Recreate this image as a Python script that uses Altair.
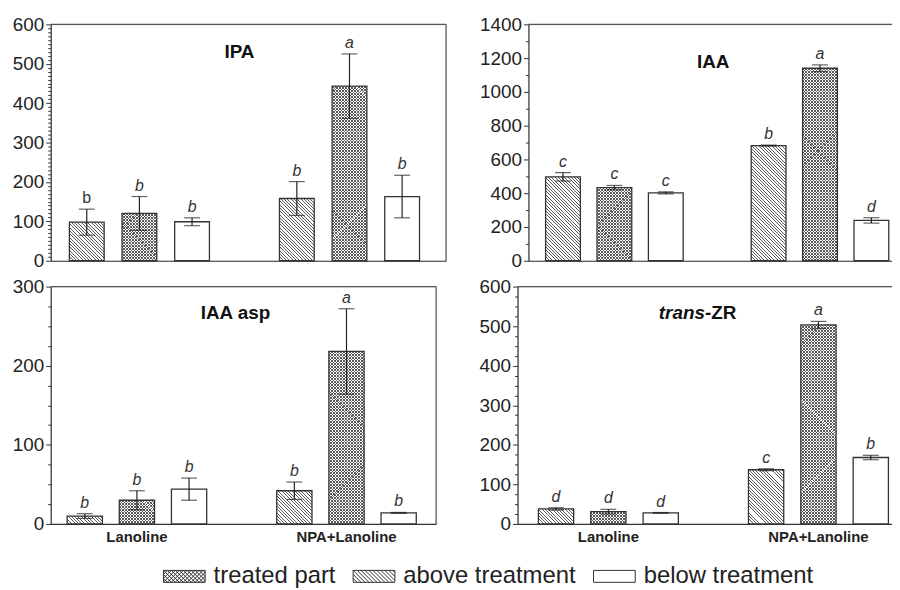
import math
import altair as alt
import pandas as pd

FONT = "Liberation Sans, Arial, Helvetica, sans-serif"

# ---------------- data ----------------
groups = ["Lanoline", "NPA+Lanoline"]
series = ["above treatment", "treated part", "below treatment"]
legend_order = ["treated part", "above treatment", "below treatment"]

# order: Lanoline(above, treated, below), NPA+Lanoline(above, treated, below)
ipa_mean = [98, 120, 99, 158, 443, 163]
ipa_err = [33, 43, 10, 43, 82, 54]
ipa_letter = ["b", "b", "b", "b", "a", "b"]

iaa_mean = [497, 433, 402, 682, 1140, 239]
iaa_err = [25, 13, 6, 3, 20, 16]
iaa_letter = ["c", "c", "c", "b", "a", "d"]

asp_mean = [10, 30, 44, 42, 218, 14]
asp_err = [3, 12, 14, 11, 54, 0.6]
asp_letter = ["b", "b", "b", "b", "a", "b"]

zr_mean = [38, 31, 28, 137, 503, 168]
zr_err = [3, 6, 1, 2.5, 9, 5.5]
zr_letter = ["d", "d", "d", "c", "a", "b"]

ipa_ticks = list(range(0, 601, 10))
iaa_ticks = list(range(0, 1401, 100))
asp_ticks = list(range(0, 301, 25))
zr_ticks = list(range(0, 601, 25))

HATCH = "#5a5a5a"
CLEAR = "rgba(255,255,255,0)"
CHUNK_PX = 30.0


def stripe_stops(span, period, lw, start, col):
    start = start % period
    stops = [{"offset": 0, "color": CLEAR}]
    v = start - period
    while v < span:
        a = max(v, 0.0)
        c = min(v + lw, span)
        if c > a:
            a = round(a / span, 5)
            c = round(c / span, 5)
            stops += [{"offset": a, "color": CLEAR}, {"offset": a, "color": col},
                      {"offset": c, "color": col}, {"offset": c, "color": CLEAR}]
        v += period
    stops.append({"offset": 1, "color": CLEAR})
    return stops


def grad_back(w, h, bottom, period, lw):  # lines top-left -> bottom-right
    k = (w + h) / (w * w + h * h)
    return {"gradient": "linear", "x1": 0, "y1": 1, "x2": k * w, "y2": 1 - k * h,
            "stops": stripe_stops(w + h, period, lw, bottom, HATCH)}


def grad_fwd(w, h, top, period, lw):  # lines bottom-left -> top-right
    k = (w + h) / (w * w + h * h)
    return {"gradient": "linear", "x1": 0, "y1": 0, "x2": k * w, "y2": k * h,
            "stops": stripe_stops(w + h, period, lw, -top, HATCH)}


def legend_path(kind):
    hh = 0.2857
    parts = ["M-1,-%.4fH1V%.4fH-1Z" % (hh, hh)]
    step = 0.19

    def segs(direction):
        out = []
        x0 = -1 - 2 * hh
        while x0 < 1:
            xa, xb = x0, x0 + 2 * hh
            ya, yb = (-hh, hh) if direction == "back" else (hh, -hh)
            slope = (yb - ya) / (xb - xa)
            if xa < -1:
                ya = ya + slope * (-1 - xa)
                xa = -1
            if xb > 1:
                yb = yb - slope * (xb - 1)
                xb = 1
            if xb - xa > 0.01:
                out.append("M%.4f,%.4fL%.4f,%.4f" % (xa, ya, xb, yb))
            x0 += step
        return out

    if kind in ("back", "cross"):
        parts += segs("back")
    if kind == "cross":
        parts += segs("fwd")
    return "".join(parts)


def panel(title, means, errs, letters, ymax, ticks, major, W, H, L, R, s, b,
          xlabels, right_border, title_xy, upright_first=False, with_legend=False,
          split_title=False):
    df = pd.DataFrame({
        "group": [g for g in groups for _ in series],
        "series": series * 2,
        "mean": means,
        "lo": [m - e for m, e in zip(means, errs)],
        "hi": [m + e for m, e in zip(means, errs)],
        "letter": letters,
        "idx": list(range(6)),
    })
    step = W - L - R
    bw = 3 * s
    pI = 1 - bw / step
    rem = L + R - bw
    pO = rem / (2 * step)
    al = min(max((L - bw / 2) / rem, 0), 1)
    pIo = (s - b) / s
    pOo = pIo / 2

    xaxis = alt.Axis(title=None, ticks=False, labels=xlabels, domainColor="#333",
                     domainWidth=1.2, labelFont=FONT, labelFontSize=15,
                     labelFontWeight="bold", labelPadding=6, labelAngle=0,
                     labelColor="#222")
    X = alt.X("group:N", scale=alt.Scale(domain=groups, paddingInner=pI,
                                         paddingOuter=pO, align=al), axis=xaxis)
    XO = alt.XOffset("series:N", scale=alt.Scale(domain=series, paddingInner=pIo,
                                                 paddingOuter=pOo))
    yaxis = alt.Axis(
        title=None, values=ticks, grid=False, labelOverlap=False, format="d",
        labelExpr="datum.value %% %d === 0 ? datum.label : ''" % major,
        tickSize={"condition": {"test": "datum.value %% %d === 0" % major, "value": 5},
                  "value": 3},
        domainColor="#333", domainWidth=1.2, tickColor="#333", labelFont=FONT,
        labelFontSize=19, labelPadding=2, labelColor="#222")
    yscale = alt.Scale(domain=[0, ymax], nice=False, zero=True)

    def Y(field):
        return alt.Y(field, scale=yscale, axis=yaxis)

    def ypx(v):
        return H * (1 - v / ymax)

    # the hatched bars are painted in short pieces so that the fine hatch renders cleanly
    rows = []
    cid = 0
    chunk_val = CHUNK_PX * ymax / H
    overlap_val = 0.8 * ymax / H
    for i in range(6):
        ser = series[i % 3]
        if ser == "below treatment":
            continue
        m = means[i]
        k = 0
        while k * chunk_val < m:
            v0 = max(k * chunk_val - (overlap_val if k > 0 else 0), 0)
            v1 = min((k + 1) * chunk_val, m)
            rows.append({"group": groups[i // 3], "series": ser, "v0": v0, "v1": v1,
                         "cid": cid})
            cid += 1
            k += 1
    chunks = pd.DataFrame(rows)

    layers = []
    layers.append(alt.Chart().mark_bar(fill="white").encode(x=X, xOffset=XO, y=Y("mean:Q")))
    for r in rows:
        top = ypx(r["v1"])
        bottom = ypx(r["v0"])
        hc = bottom - top
        if r["series"] == "above treatment":
            grads = [grad_back(b, hc, bottom, 3.3, 1.0)]
        else:
            grads = [grad_back(b, hc, bottom, 3.0, 1.0), grad_fwd(b, hc, top, 3.0, 1.0)]
        for g in grads:
            layers.append(alt.Chart(chunks).transform_filter(alt.datum.cid == r["cid"])
                          .mark_bar(fill=g)
                          .encode(x=X, xOffset=XO, y=Y("v0:Q"), y2="v1:Q"))
    layers.append(alt.Chart().mark_bar(fillOpacity=0, stroke="#333", strokeWidth=1.3)
                  .encode(x=X, xOffset=XO, y=Y("mean:Q")))
    layers.append(alt.Chart().mark_rule(color="#222", strokeWidth=1.2)
                  .encode(x=X, xOffset=XO, y=Y("lo:Q"), y2="hi:Q"))
    for fld in ("hi:Q", "lo:Q"):
        layers.append(alt.Chart().mark_tick(orient="horizontal", size=16, thickness=1.2,
                                            color="#222")
                      .encode(x=X, xOffset=XO, y=Y(fld)))
    txt = dict(baseline="bottom", dy=-3, fontSize=16, font=FONT, color="#333")
    if upright_first:
        layers.append(alt.Chart().transform_filter(alt.datum.idx != 0)
                      .mark_text(fontStyle="italic", **txt)
                      .encode(x=X, xOffset=XO, y=Y("hi:Q"), text="letter:N"))
        layers.append(alt.Chart().transform_filter(alt.datum.idx == 0)
                      .mark_text(**txt)
                      .encode(x=X, xOffset=XO, y=Y("hi:Q"), text="letter:N"))
    else:
        layers.append(alt.Chart().mark_text(fontStyle="italic", **txt)
                      .encode(x=X, xOffset=XO, y=Y("hi:Q"), text="letter:N"))

    # frame lines (top, and right for the left panels)
    frame = pd.DataFrame({"f": [0]})
    layers.append(alt.Chart(frame).mark_rule(color="#555", strokeWidth=1.2)
                  .encode(x=alt.value(0), x2=alt.value(W), y=alt.value(0)))
    if right_border:
        layers.append(alt.Chart(frame).mark_rule(color="#555", strokeWidth=1.2)
                      .encode(x=alt.value(W), y=alt.value(0), y2=alt.value(H)))

    tx, ty = title_xy
    if split_title:
        t1 = pd.DataFrame({"t": [title[0]]})
        t2 = pd.DataFrame({"t": [title[1]]})
        layers.append(alt.Chart(t1).mark_text(fontSize=19, fontWeight="bold",
                                              fontStyle="italic", font=FONT,
                                              align="right", baseline="middle",
                                              color="#111")
                      .encode(text="t:N", x=alt.value(tx), y=alt.value(ty)))
        layers.append(alt.Chart(t2).mark_text(fontSize=19, fontWeight="bold",
                                              font=FONT, align="left",
                                              baseline="middle", color="#111")
                      .encode(text="t:N", x=alt.value(tx), y=alt.value(ty)))
    else:
        t1 = pd.DataFrame({"t": [title]})
        layers.append(alt.Chart(t1).mark_text(fontSize=19, fontWeight="bold", font=FONT,
                                              align="center", baseline="middle",
                                              color="#111")
                      .encode(text="t:N", x=alt.value(tx), y=alt.value(ty)))

    if with_legend:
        ldf = pd.DataFrame({"series": legend_order})
        paths = [legend_path("cross"), legend_path("back"), legend_path("none")]
        layers.append(
            alt.Chart(ldf).transform_filter("false")
            .mark_point(color="#333", filled=False, strokeWidth=1)
            .encode(shape=alt.Shape(
                "series:N",
                scale=alt.Scale(domain=legend_order, range=paths),
                legend=alt.Legend(
                    title=None, orient="none", legendX=113, legendY=534,
                    direction="horizontal", columns=3, symbolSize=1764,
                    symbolStrokeColor="#333", symbolStrokeWidth=1,
                    symbolFillColor="white", symbolOpacity=1,
                    labelFont=FONT, labelFontSize=24, labelColor="#222",
                    labelLimit=400, labelOffset=8, columnPadding=15, padding=0))))

    return alt.layer(*layers, data=df).properties(width=W, height=H)


tl = panel("IPA", ipa_mean, ipa_err, ipa_letter, 600, ipa_ticks, 100,
           W=398, H=238, L=89.3, R=97.2, s=53, b=35, xlabels=False, right_border=True,
           title_xy=(190, 28), upright_first=True)
tr = panel("IAA", iaa_mean, iaa_err, iaa_letter, 1400, iaa_ticks, 200,
           W=372, H=238, L=86.5, R=78.5, s=51.75, b=35, xlabels=False, right_border=False,
           title_xy=(186, 38))
bl = panel("IAA asp", asp_mean, asp_err, asp_letter, 300, asp_ticks, 100,
           W=388, H=239, L=86.8, R=90.2, s=52.5, b=35.5, xlabels=True, right_border=True,
           title_xy=(186, 27), with_legend=True)
br = panel(("trans-", "ZR"), zr_mean, zr_err, zr_letter, 600, zr_ticks, 100,
           W=382, H=239, L=92.1, R=78.4, s=52.7, b=35.5, xlabels=True, right_border=False,
           title_xy=(195, 27), split_title=True)

res = dict(x="independent", y="independent", xOffset="independent")
row1 = alt.hconcat(tl, tr, spacing=31).resolve_scale(**res)
row2 = alt.hconcat(bl, br, spacing=40).resolve_scale(**res)
chart = (alt.vconcat(row1, row2, spacing=5)
         .resolve_scale(**res)
         .properties(padding={"left": 3, "top": 4.5, "right": -8, "bottom": -1})
         .configure_view(stroke=None)
         .configure(background="white"))

chart.save("out.html", embed_options={"renderer": "svg", "actions": False})
